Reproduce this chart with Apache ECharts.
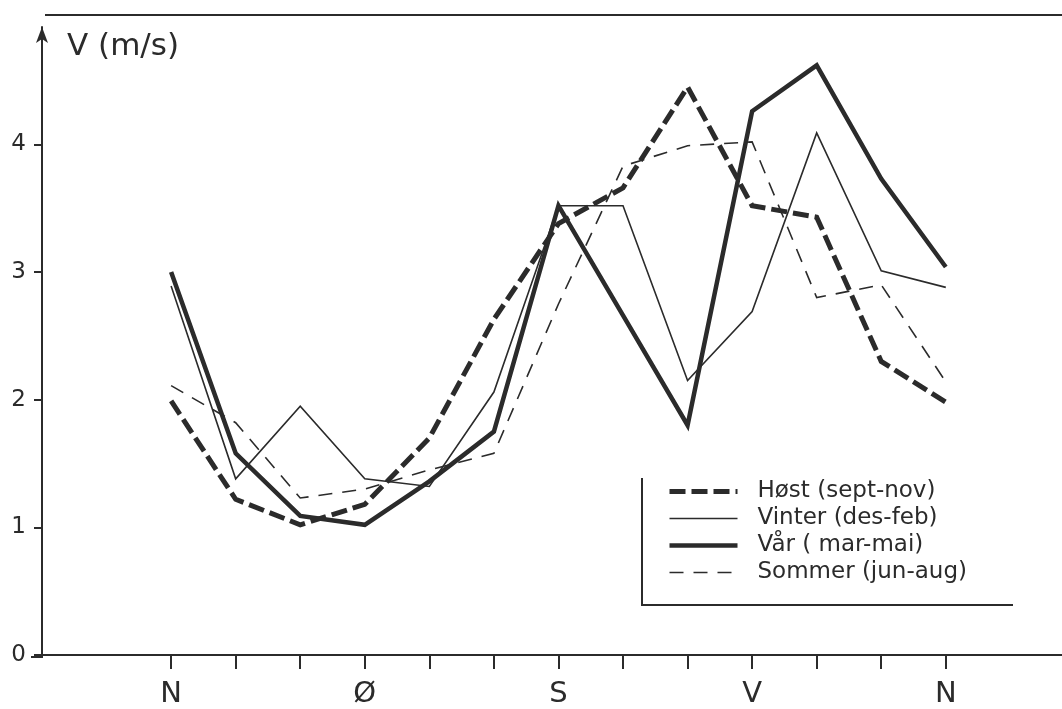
<!DOCTYPE html>
<html>
<head>
<meta charset="utf-8">
<script src="https://cdn.jsdelivr.net/npm/echarts@6/dist/echarts.min.js"></script>
<style>
    html, body { margin: 0; padding: 0; background: #fff; }
    #chart { width: 1062px; height: 709px; }
</style>
</head>
<body>
<div id="chart"></div>
<script>
// wind direction sectors, 30 deg apart, N round to N
const sectorLabels = ['N', '', '', 'Ø', '', '', 'S', '', '', 'V', '', '', 'N'];
const yTicks = [0, 1, 2, 3, 4];

// mean wind speed (m/s) per sector
const host   = [1.99, 1.22, 1.02, 1.18, 1.70, 2.63, 3.38, 3.66, 4.45, 3.52, 3.43, 2.30, 1.98];
const vinter = [2.89, 1.38, 1.95, 1.38, 1.32, 2.06, 3.52, 3.52, 2.15, 2.69, 4.09, 3.01, 2.88];
const var_   = [3.00, 1.58, 1.09, 1.02, 1.36, 1.75, 3.52, 2.66, 1.80, 4.26, 4.62, 3.73, 3.04];
const sommer = [2.11, 1.82, 1.23, 1.30, 1.45, 1.58, 2.75, 3.83, 3.99, 4.02, 2.80, 2.90, 2.14];

const INK = '#2b2b2b';
const FONT = 'DejaVu Sans';

const toPoints = vals => vals.map((v, i) => [i, v]);
const sectorIdx = sectorLabels.map((_, i) => i);

// name, values, line width, dash
const seasons = [
    ['Høst (sept-nov)', host, 5, [16, 6]],
    ['Vinter (des-feb)', vinter, 1.6, 'solid'],
    ['Vår ( mar-mai)', var_, 4.5, 'solid'],
    ['Sommer (jun-aug)', sommer, 1.6, [14, 10]],
];

const chart = echarts.init(document.getElementById('chart'));

chart.setOption({
    animation: false,
    backgroundColor: '#fff',
    title: {
        text: 'V (m/s)', left: 67, top: 31, padding: 0,
        textStyle: { fontFamily: FONT, fontSize: 31, fontWeight: 'normal', color: INK },
    },
    legend: {
        orient: 'vertical', left: 667, top: 480, padding: 0,
        itemWidth: 68, itemHeight: 12, itemGap: 4,
        itemStyle: { opacity: 0 },
        textStyle: { fontFamily: FONT, fontSize: 23, lineHeight: 23, color: INK, padding: [0, 0, 0, 15] },
        data: seasons.map(([name, , width, type]) => ({
            name, lineStyle: { color: INK, width, type, cap: 'butt' },
        })),
    },
    grid: { left: 42, right: 0, top: 27, bottom: 52 },
    xAxis: {
        type: 'value', min: -2, max: 13.8,
        splitLine: { show: false },
        axisLine: { lineStyle: { color: INK, width: 2 } },
        axisTick: { customValues: sectorIdx, length: 14, lineStyle: { color: INK, width: 2 } },
        axisLabel: {
            customValues: sectorIdx, margin: 25,
            formatter: v => sectorLabels[Math.round(v)] || '',
            fontFamily: FONT, fontSize: 29, color: INK,
        },
    },
    yAxis: {
        type: 'value', min: 0, max: 4.92,
        splitLine: { show: false },
        axisLine: { show: true, onZero: false, symbol: ['none', 'arrow'], symbolSize: [9, 16], lineStyle: { color: INK, width: 2 } },
        axisTick: { show: true, customValues: yTicks, length: 8, lineStyle: { color: INK, width: 2 } },
        axisLabel: { customValues: yTicks, margin: 16, fontFamily: FONT, fontSize: 23, color: INK },
    },
    graphic: [
        // frame line across the top
        { type: 'line', shape: { x1: 45, y1: 15, x2: 1062, y2: 15 }, style: { stroke: INK, lineWidth: 2 } },
        // base line runs a little past the y axis
        { type: 'line', shape: { x1: 31, y1: 657, x2: 43, y2: 657 }, style: { stroke: INK, lineWidth: 2 } },
        // legend box: left and bottom edges only
        { type: 'polyline', shape: { points: [[642, 478], [642, 605], [1013, 605]] }, style: { stroke: INK, lineWidth: 2, fill: null } },
    ],
    series: seasons.map(([name, vals, width, type]) => ({
        name, type: 'line', data: toPoints(vals),
        symbol: 'none', silent: true,
        itemStyle: { color: INK },
        lineStyle: { color: INK, width, type, cap: 'butt', join: 'miter' },
    })),
});
</script>
</body>
</html>
